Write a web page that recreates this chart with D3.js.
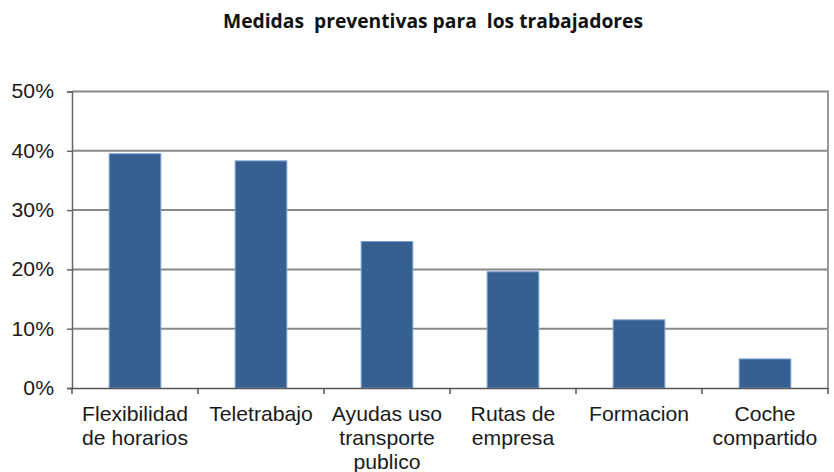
<!DOCTYPE html>
<html><head><meta charset="utf-8">
<script src="https://cdn.jsdelivr.net/npm/d3@7"></script>
<style>
html,body{margin:0;padding:0;background:#fff;}
svg{display:block;}
</style></head>
<body>
<script>
const title = "Medidas  preventivas para  los trabajadores";
const categories = ["Flexibilidad de horarios","Teletrabajo","Ayudas uso transporte publico","Rutas de empresa","Formacion","Coche compartido"];
const categoryLines = [["Flexibilidad","de horarios"],["Teletrabajo"],["Ayudas uso","transporte","publico"],["Rutas de","empresa"],["Formacion"],["Coche","compartido"]];
const values = [0.395, 0.383, 0.247, 0.196, 0.115, 0.049];
const yTicks = [0, 0.1, 0.2, 0.3, 0.4, 0.5];

const W = 834, H = 472;
const m = {left: 72, right: 6, top: 91.5, bottom: 84};
const svg = d3.select("body").append("svg").attr("width", W).attr("height", H);

const x = d3.scaleBand().domain(categories).range([m.left, W - m.right]).paddingInner(0.59).paddingOuter(0.295);
const xEdge = d3.scaleBand().domain(categories).range([m.left, W - m.right]).padding(0);
const y = d3.scaleLinear().domain([0, 0.5]).range([H - m.bottom, m.top]);

svg.append("text")
  .attr("x", 433).attr("y", 28)
  .attr("text-anchor", "middle")
  .attr("textLength", 420).attr("lengthAdjust", "spacingAndGlyphs")
  .style("white-space", "pre")
  .attr("font-family", "'Open Sans', 'DejaVu Sans', sans-serif")
  .attr("font-weight", "bold").attr("font-size", 19)
  .attr("fill", "#111")
  .text(title);

svg.append("g").selectAll("line").data(yTicks.filter(d => d > 0)).join("line")
  .attr("x1", m.left).attr("x2", W - m.right)
  .attr("y1", d => y(d)).attr("y2", d => y(d))
  .attr("stroke", "#888").attr("stroke-width", 2);

svg.append("line")
  .attr("x1", W - m.right).attr("x2", W - m.right)
  .attr("y1", y(0.5) - 1).attr("y2", y(0))
  .attr("stroke", "#999").attr("stroke-width", 2);

svg.append("g").selectAll("rect").data(categories).join("rect")
  .attr("x", d => x(d))
  .attr("y", (d, i) => y(values[i]))
  .attr("width", x.bandwidth())
  .attr("height", (d, i) => y(0) - y(values[i]))
  .attr("fill", "#365f92")
  .attr("stroke", "#7aa3d6").attr("stroke-width", 1);

const fontFam = "'Liberation Sans', Arial, sans-serif";
const yAxis = svg.append("g").attr("transform", `translate(${m.left},0)`)
  .call(d3.axisLeft(y).tickValues(yTicks).tickFormat(d3.format(".0%")).tickSize(5).tickPadding(12));
yAxis.select(".domain").attr("stroke", "#666").attr("stroke-width", 1.5);
yAxis.selectAll(".tick line").attr("stroke", "#666").attr("stroke-width", 1.5);
yAxis.selectAll("text")
  .attr("font-family", fontFam)
  .attr("font-size", 20).attr("fill", "#1a1a1a")
  .attr("transform", "scale(1.06,1)");

const xAxis = svg.append("g").attr("transform", `translate(0,${y(0)})`)
  .call(d3.axisBottom(x).tickSize(0).tickFormat(""));
xAxis.select(".domain").attr("stroke", "#555").attr("stroke-width", 1.5);

const edges = categories.map(d => xEdge(d)).concat([xEdge.range()[1]]);
xAxis.selectAll("line.edge").data(edges).join("line").attr("class", "edge")
  .attr("x1", d => d).attr("x2", d => d)
  .attr("y1", 0).attr("y2", 6)
  .attr("stroke", "#555").attr("stroke-width", 1.5);

const labels = xAxis.selectAll("g.cat").data(categories).join("g").attr("class", "cat")
  .attr("transform", d => `translate(${x(d) + x.bandwidth() / 2},0) scale(1.06,1)`);
labels.append("text")
  .attr("y", 33)
  .attr("text-anchor", "middle")
  .attr("font-family", fontFam)
  .attr("font-size", 20).attr("fill", "#1a1a1a")
  .each(function(d, i) {
    d3.select(this).selectAll("tspan").data(categoryLines[i]).join("tspan")
      .attr("x", 0)
      .attr("dy", (t, j) => j === 0 ? 0 : 24)
      .text(t => t);
  });
</script>
</body></html>
